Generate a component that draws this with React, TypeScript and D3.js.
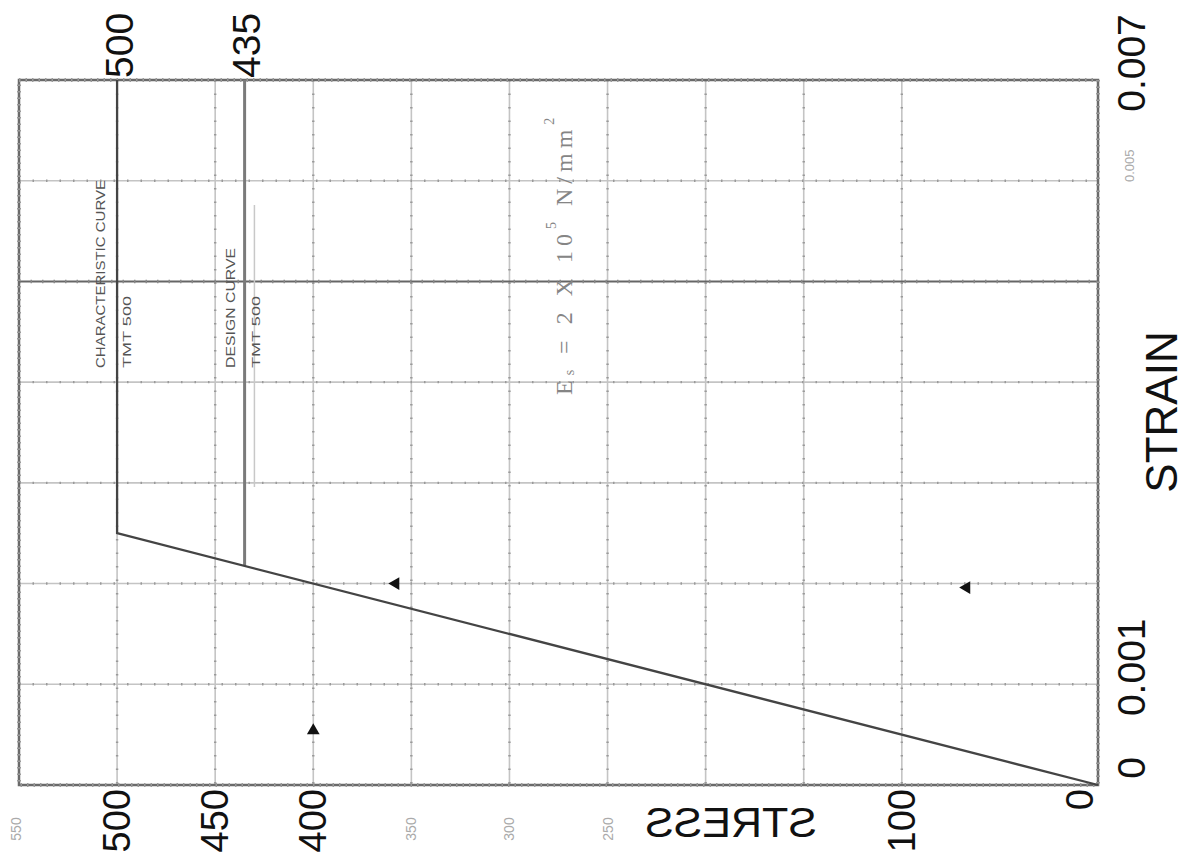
import React from "react";
import * as d3 from "d3";

// ---- data ----
const charStress = [0, 500, 500];
const charStrain = [0, 0.0025, 0.007];
const designStress = [435, 435];
const designStrain = [0.002175, 0.007];
const guideStress = [430, 430];
const guideStrain = [0.00296, 0.00576];

const vGridStress = [500, 450, 400, 350, 300, 250, 200, 150, 100];
const hGridStrain = [0.001, 0.002, 0.003, 0.004, 0.006];
const hDarkStrain = [0.005];

const bigStressLabels = [500, 450, 400, 100, 0];
const smallStressLabels = [550, 350, 300, 250];
const topStressLabels = [500, 435];
const bigStrainLabels = ["0", "0.001", "0.007"];
const bigStrainValues = [0, 0.001, 0.007];
const smallStrainLabels = ["0.005"];
const smallStrainValues = [0.006];

const markerStress = [400, 358, 67];
const markerStrain = [0.00054, 0.002, 0.00196];
const markerDir = ["up", "left", "left"];

const W = 1184;
const H = 861;

export default function App() {
  const x = d3.scaleLinear().domain([0, 550]).range([1098, 19]);
  const y = d3.scaleLinear().domain([0, 0.007]).range([785, 80]);

  const line = d3
    .line<[number, number]>()
    .x((d) => x(d[0]))
    .y((d) => y(d[1]));

  const charPts = charStress.map((s, i) => [s, charStrain[i]] as [number, number]);
  const designPts = designStress.map((s, i) => [s, designStrain[i]] as [number, number]);
  const guidePts = guideStress.map((s, i) => [s, guideStrain[i]] as [number, number]);

  const tri = d3.symbol().type(d3.symbolTriangle).size(70)();

  const [x0, x1] = [x(550), x(0)];
  const [y0, y1] = [y(0.007), y(0)];

  const sans = "'Liberation Sans', Arial, sans-serif";

  return (
    <svg
      width={W}
      height={H}
      style={{ position: "absolute", left: 0, top: 0, background: "#fff" }}
    >
      {/* grid vertical */}
      {vGridStress.map((s) => (
        <g key={"v" + s}>
          <line x1={x(s)} x2={x(s)} y1={y0} y2={y1} stroke="#c4c4c4" strokeWidth={1.6} />
          <line
            x1={x(s)}
            x2={x(s)}
            y1={y0}
            y2={y1}
            stroke="#9a9a9a"
            strokeWidth={2.4}
            strokeDasharray="1.5,12"
          />
        </g>
      ))}
      {/* grid horizontal */}
      {hGridStrain.map((v) => (
        <g key={"h" + v}>
          <line x1={x0} x2={x1} y1={y(v)} y2={y(v)} stroke="#c4c4c4" strokeWidth={1.6} />
          <line
            x1={x0}
            x2={x1}
            y1={y(v)}
            y2={y(v)}
            stroke="#9a9a9a"
            strokeWidth={2.4}
            strokeDasharray="1.5,12"
          />
        </g>
      ))}
      {hDarkStrain.map((v) => (
        <g key={"hd" + v}>
          <line x1={x0} x2={x1} y1={y(v)} y2={y(v)} stroke="#666" strokeWidth={2} />
          <line
            x1={x0}
            x2={x1}
            y1={y(v)}
            y2={y(v)}
            stroke="#888"
            strokeWidth={3.5}
            strokeDasharray="1.5,10"
          />
        </g>
      ))}

      {/* frame */}
      <rect
        x={x0}
        y={y0}
        width={x1 - x0}
        height={y1 - y0}
        fill="none"
        stroke="#6a6a6a"
        strokeWidth={2.5}
      />
      <rect
        x={x0}
        y={y0}
        width={x1 - x0}
        height={y1 - y0}
        fill="none"
        stroke="#999"
        strokeWidth={4}
        strokeDasharray="1.5,5"
      />

      {/* curves */}
      <path d={line(guidePts) || ""} fill="none" stroke="#c8c8c8" strokeWidth={1.5} />
      <path d={line(designPts) || ""} fill="none" stroke="#7a7a7a" strokeWidth={3} />
      <path d={line(charPts) || ""} fill="none" stroke="#444" strokeWidth={2.3} />

      {/* markers */}
      {markerStress.map((s, i) => (
        <path
          key={"m" + i}
          d={tri || ""}
          transform={`translate(${x(s)},${y(markerStrain[i])}) rotate(${
            markerDir[i] === "left" ? -90 : 0
          })`}
          fill="#111"
        />
      ))}

      {/* curve labels */}
      <g fill="#555" fontFamily={sans}>
        <text
          transform={`translate(${x(508)},368) rotate(-90)`}
          fontSize={12}
          textLength={188}
          lengthAdjust="spacingAndGlyphs"
          dominantBaseline="central"
        >
          CHARACTERISTIC CURVE
        </text>
        <text
          transform={`translate(${x(495)},368) rotate(-90)`}
          fontSize={11}
          textLength={72}
          lengthAdjust="spacingAndGlyphs"
          dominantBaseline="central"
        >
          TMT 500
        </text>
        <text
          transform={`translate(${x(442)},368) rotate(-90)`}
          fontSize={12}
          textLength={120}
          lengthAdjust="spacingAndGlyphs"
          dominantBaseline="central"
        >
          DESIGN CURVE
        </text>
        <text
          transform={`translate(${x(429)},368) rotate(-90)`}
          fontSize={11}
          textLength={72}
          lengthAdjust="spacingAndGlyphs"
          dominantBaseline="central"
        >
          TMT 500
        </text>
      </g>

      {/* modulus */}
      <text
        transform={`translate(564,395) rotate(-90)`}
        fontFamily="'Liberation Serif', 'DejaVu Serif', serif"
        fontSize={24}
        fill="#858585"
        letterSpacing={5}
        dominantBaseline="central"
      >
        E
        <tspan fontSize={14} dy={5}>s</tspan>
        <tspan dy={-5}> = 2 X 10</tspan>
        <tspan fontSize={14} dy={-13}>5</tspan>
        <tspan dy={13}> N/mm</tspan>
        <tspan fontSize={14} dy={-15}>2</tspan>
      </text>

      {/* bottom stress labels */}
      <g fontFamily={sans} fill="#111">
        {bigStressLabels.map((s) => (
          <text
            key={"bs" + s}
            transform={`translate(${x(s) - (s === 0 ? 18 : 0)},789) rotate(-90)`}
            fontSize={38}
            textAnchor="end"
            dominantBaseline="central"
          >
            {s}
          </text>
        ))}
      </g>
      <g fontFamily={sans} fill="#aaa">
        {smallStressLabels.map((s) => (
          <text
            key={"ss" + s}
            transform={`translate(${x(s) - (s === 550 ? 3 : 0)},829) rotate(-90)`}
            fontSize={14}
            textAnchor="middle"
            dominantBaseline="central"
          >
            {s}
          </text>
        ))}
      </g>
      {/* top stress labels */}
      <g fontFamily={sans} fill="#111">
        {topStressLabels.map((s) => (
          <text
            key={"ts" + s}
            transform={`translate(${x(s) + 2},${y0 - 2}) rotate(-90)`}
            fontSize={39}
            textAnchor="start"
            dominantBaseline="central"
          >
            {s}
          </text>
        ))}
      </g>

      {/* right strain labels */}
      <g fontFamily={sans} fill="#111">
        {bigStrainValues.map((v, i) => (
          <text
            key={"st" + i}
            transform={`translate(1131,${y(v) - 17}) rotate(-90)`}
            fontSize={39}
            textAnchor="middle"
            dominantBaseline="central"
          >
            {bigStrainLabels[i]}
          </text>
        ))}
      </g>
      <g fontFamily={sans} fill="#aaa">
        {smallStrainValues.map((v, i) => (
          <text
            key={"sst" + i}
            transform={`translate(1129,${y(v) - 15}) rotate(-90)`}
            fontSize={13}
            textAnchor="middle"
            dominantBaseline="central"
          >
            {smallStrainLabels[i]}
          </text>
        ))}
      </g>

      {/* axis titles */}
      <text
        transform={`translate(731,0) scale(-1,1)`}
        y={837}
        fontFamily={sans}
        fontSize={43}
        fill="#111"
        textAnchor="middle"
      >
        STRESS
      </text>
      <text
        transform={`translate(1161,412) rotate(-90)`}
        fontFamily={sans}
        fontSize={44}
        fill="#111"
        textAnchor="middle"
        dominantBaseline="central"
      >
        STRAIN
      </text>
    </svg>
  );
}
